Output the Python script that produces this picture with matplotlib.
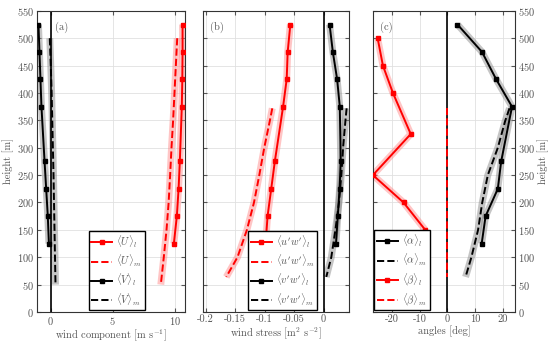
import matplotlib
matplotlib.use('Agg')
import matplotlib.pyplot as plt

plt.rcParams['font.family'] = 'serif'
plt.rcParams['font.serif'] = ['cmr10', 'DejaVu Serif']
plt.rcParams['mathtext.fontset'] = 'cm'
plt.rcParams['axes.formatter.use_mathtext'] = True
plt.rcParams['font.size'] = 7.5

# heights of the measured (l) profiles
z_l = [525, 475, 425, 375, 275, 225, 175, 125]

# (a) wind components
U_l = [10.62, 10.62, 10.6, 10.56, 10.4, 10.3, 10.16, 9.92]
V_l = [-0.97, -0.89, -0.81, -0.73, -0.48, -0.35, -0.22, -0.13]
z_um = [500, 450, 400, 350, 300, 250, 200, 150, 100, 50]
U_m = [10.19, 10.08, 9.97, 9.86, 9.73, 9.62, 9.5, 9.33, 9.11, 8.87]
V_m = [-0.06, 0.02, 0.09, 0.14, 0.19, 0.24, 0.28, 0.32, 0.36, 0.4]

# (b) wind stress
uw_l = [-0.0564, -0.0609, -0.0626, -0.0687, -0.0827, -0.0888, -0.095, -0.0983]
vw_l = [0.0101, 0.0156, 0.0229, 0.0274, 0.029, 0.027, 0.024, 0.021]
z_m = [372, 350, 300, 250, 200, 150, 100, 64]
uw_m = [-0.087, -0.091, -0.1006, -0.109, -0.118, -0.13, -0.146, -0.165]
vw_m = [0.039, 0.037, 0.033, 0.03, 0.026, 0.02, 0.013, 0.0045]

# (c) angles
alpha_l = [3.6, 12.4, 17.5, 23.2, 19.3, 18.1, 13.7, 12.3]
alpha_m = [22.3, 20.8, 18.1, 14.5, 12.5, 11.0, 8.6, 6.5]
z_b = [500, 450, 400, 325, 250, 200, 150]
beta_l = [-25.1, -23.2, -19.6, -13.2, -26.8, -15.8, -8.0]
beta_m = [0, 0, 0, 0, 0, 0, 0, 0]

txt = '#555555'

fig = plt.figure(figsize=(5.5, 3.43), dpi=100)
ax1 = fig.add_axes([0.067, 0.0904, 0.269, 0.878])
ax2 = fig.add_axes([0.369, 0.0904, 0.265, 0.878])
ax3 = fig.add_axes([0.678, 0.0904, 0.258, 0.878])

leg_kw = dict(fancybox=False, edgecolor='black', framealpha=1, fontsize=7.5,
              handlelength=2.0, handletextpad=0.4, borderpad=0.25,
              labelspacing=0.3, labelcolor=txt, borderaxespad=0.15)


def prof(ax, x, z, color, band, ls, marker, label):
    ax.plot(x, z, color=band, lw=5, alpha=0.45, solid_capstyle='butt', zorder=2)
    ax.plot(x, z, color=color, lw=1.4, ls=ls, marker=marker, ms=2.5,
            label=label, zorder=3)


for ax in (ax1, ax2, ax3):
    ax.axvline(0, color='black', lw=1.2, zorder=2.5)
    ax.set_ylim(0, 550)
    ax.set_yticks(range(0, 551, 50))
    ax.grid(True, color='#e0e0e0', lw=0.6)
    ax.set_axisbelow(True)
    ax.tick_params(direction='in', top=True, right=True, colors=txt,
                   labelsize=7.5, length=3, pad=2)
    for s in ax.spines.values():
        s.set_color('#333333')
        s.set_linewidth(0.8)

prof(ax1, U_l, z_l, 'red', '#ff8080', '-', 's', r'$\langle U\rangle_l$')
prof(ax1, U_m, z_um, 'red', '#ff8080', '--', None, r'$\langle U\rangle_m$')
prof(ax1, V_l, z_l, 'black', '#808080', '-', 's', r'$\langle V\rangle_l$')
prof(ax1, V_m, z_um, 'black', '#808080', '--', None, r'$\langle V\rangle_m$')
ax1.set_xlim(-1.1, 10.8)
ax1.set_xticks([0, 5, 10])
ax1.set_xlabel(r'wind component [m s$^{-1}$]', color=txt, labelpad=1)
ax1.set_ylabel('height [m]', color=txt, labelpad=2)
ax1.legend(loc='lower left', bbox_to_anchor=(0.34, 0.0), **leg_kw)
ax1.text(0.12, 0.965, '(a)', transform=ax1.transAxes, color=txt, va='top')

prof(ax2, uw_l, z_l, 'red', '#ff8080', '-', 's', r"$\langle u'w'\rangle_l$")
prof(ax2, uw_m, z_m, 'red', '#ff8080', '--', None, r"$\langle u'w'\rangle_m$")
prof(ax2, vw_l, z_l, 'black', '#808080', '-', 's', r"$\langle v'w'\rangle_l$")
prof(ax2, vw_m, z_m, 'black', '#808080', '--', None, r"$\langle v'w'\rangle_m$")
ax2.set_xlim(-0.2045, 0.0425)
ax2.set_xticks([-0.2, -0.15, -0.1, -0.05, 0])
ax2.set_xticklabels(['-0.2', '-0.15', '-0.1', '-0.05', '0'])
ax2.set_yticklabels([])
ax2.set_xlabel(r'wind stress [m$^2$ s$^{-2}$]', color=txt, labelpad=1)
ax2.legend(loc='lower left', bbox_to_anchor=(0.3, 0.0), **leg_kw)
ax2.text(0.05, 0.965, '(b)', transform=ax2.transAxes, color=txt, va='top')

prof(ax3, alpha_l, z_l, 'black', '#808080', '-', 's', r'$\langle\alpha\rangle_l$')
prof(ax3, alpha_m, z_m, 'black', '#808080', '--', None, r'$\langle\alpha\rangle_m$')
prof(ax3, beta_l, z_b, 'red', '#ff8080', '-', 's', r'$\langle\beta\rangle_l$')
ax3.plot(beta_m, z_m, color='red', lw=1.4, ls='--', zorder=3,
         label=r'$\langle\beta\rangle_m$')
ax3.set_xlim(-26.8, 24.2)
ax3.set_xticks([-20, -10, 0, 10, 20])
ax3.set_xticklabels(['-20', '-10', '0', '10', '20'])
ax3.yaxis.tick_right()
ax3.tick_params(left=True, labelleft=False, labelright=True)
ax3.yaxis.set_label_position('right')
ax3.set_ylabel('height [m]', color=txt, labelpad=2)
ax3.set_xlabel('angles [deg]', color=txt, labelpad=1)
ax3.legend(loc='lower left', **leg_kw)
ax3.text(0.05, 0.965, '(c)', transform=ax3.transAxes, color=txt, va='top')

fig.savefig('out.png', dpi=100)
